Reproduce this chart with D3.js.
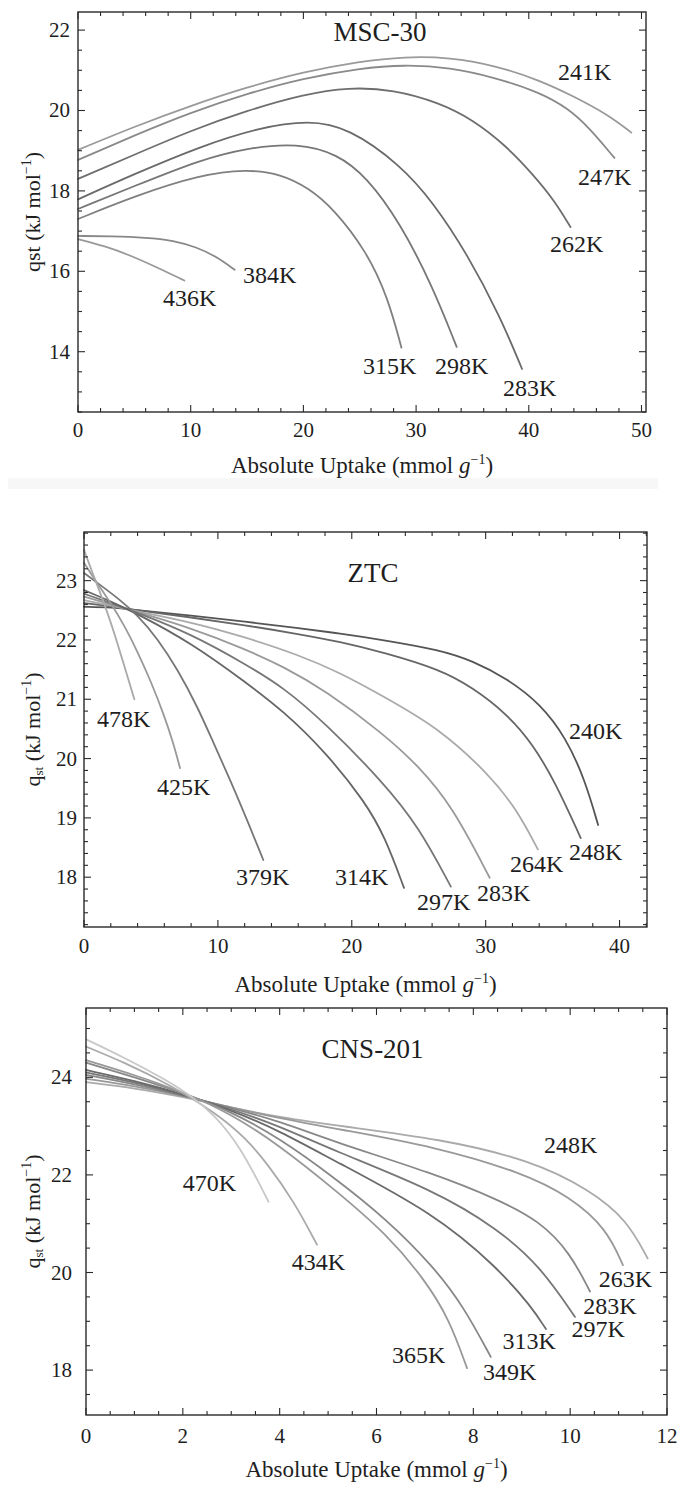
<!DOCTYPE html>
<html>
<head>
<meta charset="utf-8">
<script src="https://cdn.jsdelivr.net/npm/d3@7"></script>
<style>
  body { margin: 0; background: #fff; }
  svg { display: block; }
  text { font-family: "Liberation Serif", "Times New Roman", serif; fill: #1e1e1e; }
</style>
</head>
<body>
<svg id="chart" width="681" height="1487"></svg>
<script>
// ---- MSC-30 ----
const mscTemps = ["241K", "247K", "262K", "283K", "298K", "315K", "384K", "436K"];
const mscCurves = [
  [[0,19.02],[5,19.6],[10,20.12],[15,20.58],[20,20.96],[25,21.22],[29,21.34],[33,21.32],[37,21.12],[41,20.75],[44,20.35],[47,19.9],[49.1,19.45]],
  [[0,18.77],[5,19.38],[10,19.95],[15,20.42],[20,20.8],[25,21.05],[29,21.14],[33,21.07],[37,20.82],[41,20.45],[43.5,20.05],[45.4,19.56],[47.6,18.82]],
  [[0,18.3],[5,18.9],[10,19.5],[15,20.0],[20,20.4],[24,20.58],[28,20.52],[32,20.2],[35,19.78],[38,19.12],[40.4,18.4],[42.3,17.75],[43.7,17.1]],
  [[0,17.79],[5,18.42],[10.8,19.1],[16,19.57],[20.5,19.76],[24,19.57],[28.6,18.65],[31.5,17.72],[34.5,16.45],[37.5,14.85],[39.4,13.57]],
  [[0,17.55],[5,18.12],[10.8,18.77],[15,19.07],[19.5,19.19],[23,18.92],[25.6,18.35],[28.6,17.2],[31.5,15.6],[33.6,14.12]],
  [[0,17.3],[5,17.87],[10.8,18.4],[15,18.54],[18,18.42],[20.5,18.07],[22.7,17.55],[25.6,16.5],[27.5,15.35],[28.7,14.1]],
  [[0,16.88],[3,16.87],[6,16.84],[8.5,16.77],[10.5,16.6],[12.2,16.38],[13.9,16.04]],
  [[0,16.8],[2.5,16.62],[4.6,16.4],[7,16.1],[9.44,15.77]]
];
const mscColors = ["#9a9a9a", "#8a8a8a", "#6e6e6e", "#6a6a6a", "#777", "#808080", "#888", "#999"];
const mscXTicks = [0, 10, 20, 30, 40, 50];
const mscYTicks = [14, 16, 18, 20, 22];

// ---- ZTC ----
const ztcTemps = ["240K", "248K", "264K", "283K", "297K", "314K", "379K", "425K", "478K"];
const ztcCurves = [
  [[0,22.56],[2,22.55],[4,22.5],[8,22.41],[12,22.31],[16,22.2],[19.1,22.11],[22.35,22.0],[26.6,21.83],[29,21.65],[31.6,21.35],[34.1,20.92],[36,20.35],[37.4,19.65],[38.4,18.88]],
  [[0,22.62],[2,22.57],[4,22.5],[8,22.38],[12,22.25],[16,22.1],[19.1,21.97],[22.35,21.79],[26.6,21.5],[29,21.2],[31.6,20.75],[33.5,20.25],[35.2,19.6],[37.1,18.66]],
  [[0,22.67],[2,22.58],[4,22.48],[8,22.3],[12,22.05],[16,21.75],[19.1,21.45],[22.35,21.05],[26.6,20.5],[30.3,19.72],[32.3,19.15],[33.9,18.47]],
  [[0,22.73],[2,22.6],[4,22.47],[8,22.2],[12,21.85],[14.9,21.55],[18,21.15],[22.35,20.42],[25,19.87],[27.5,19.2],[30.3,17.99]],
  [[0,22.78],[2,22.62],[4,22.46],[8,22.1],[12,21.6],[14.9,21.2],[18,20.6],[22.35,19.6],[25,18.85],[27.4,17.84]],
  [[0,22.84],[2,22.65],[4,22.44],[8,21.95],[12,21.3],[14.9,20.8],[18,20.12],[21,19.27],[22.5,18.67],[23.9,17.82]],
  [[0,23.13],[1.25,22.92],[2.5,22.71],[4,22.42],[5.5,22.02],[7,21.5],[8.5,20.86],[9.6,20.3],[11,19.6],[12.3,18.9],[13.39,18.29]],
  [[0,23.3],[1,22.95],[2,22.62],[3,22.25],[4,21.8],[5,21.3],[6,20.72],[6.66,20.27],[7.17,19.84]],
  [[0,23.52],[0.6,23.15],[1.2,22.8],[1.8,22.43],[2.4,22.02],[3.0,21.57],[3.76,21.0]]
];
const ztcColors = ["#555", "#666", "#aaa", "#9a9a9a", "#777", "#666", "#777", "#999", "#aaa"];
const ztcXTicks = [0, 10, 20, 30, 40];
const ztcYTicks = [18, 19, 20, 21, 22, 23];

// ---- CNS-201 ----
const cnsTemps = ["248K", "263K", "283K", "297K", "313K", "349K", "365K", "434K", "470K"];
const cnsCurves = [
  [[0,23.9],[1,23.78],[2,23.6],[3,23.38],[4,23.18],[5.25,23.0],[7.31,22.74],[9.2,22.3],[10.41,21.69],[11.17,21.08],[11.6,20.29]],
  [[0,23.97],[1,23.82],[2,23.62],[3,23.38],[4,23.16],[5.25,22.93],[7.2,22.58],[9.0,22.05],[10.0,21.55],[10.75,20.9],[11.09,20.15]],
  [[0,24.05],[1,23.86],[2,23.63],[3,23.37],[4,23.1],[5.11,22.68],[7.18,22.03],[8.5,21.5],[9.38,21.05],[10.0,20.4],[10.41,19.61]],
  [[0,24.1],[1,23.9],[2,23.64],[3,23.35],[4,23.0],[5.11,22.5],[7.18,21.69],[8.5,20.9],[9.38,20.13],[10.1,19.09]],
  [[0,24.15],[1,23.93],[2,23.66],[3,23.33],[4,22.9],[5.11,22.3],[7.18,21.22],[8.5,20.1],[9.2,19.3],[9.5,18.84]],
  [[0,24.3],[1,24.0],[2,23.68],[3,23.3],[4,22.75],[5.11,21.96],[6.2,21.1],[7.18,20.12],[7.8,19.3],[8.36,18.27]],
  [[0,24.35],[1,24.05],[2,23.7],[3,23.25],[4,22.6],[5.11,21.72],[6.2,20.8],[7.0,19.85],[7.5,19.05],[7.87,18.04]],
  [[0,24.63],[0.8,24.3],[1.67,23.88],[2.7,23.26],[3.3,22.75],[3.73,22.25],[4.3,21.45],[4.77,20.57]],
  [[0,24.78],[0.8,24.4],[1.67,23.94],[2.2,23.6],[2.63,23.25],[3.18,22.6],[3.77,21.45]]
];
const cnsColors = ["#aaa", "#999", "#888", "#777", "#6a6a6a", "#888", "#999", "#aaa", "#c8c8c8"];
const cnsXTicks = [0, 2, 4, 6, 8, 10, 12];
const cnsYTicks = [18, 20, 22, 24];

// label anchor points in data units (text start, baseline)
const panels = [
  {
    title: "MSC-30", titleAt: [26.8, 21.73], subQ: false,
    box: { left: 78, right: 646, top: 12, bottom: 412 },
    xDomain: [0, 50.4], yDomain: [12.5, 22.45],
    xTicks: mscXTicks, xMinor: 2, yTicks: mscYTicks, yMinor: 0.5, yLabelGap: 8,
    temps: mscTemps, curves: mscCurves, colors: mscColors,
    labelAt: [[42.59,20.76],[44.37,18.15],[41.88,16.48],[37.71,12.9],[31.68,13.45],[25.29,13.45],[14.64,15.71],[7.54,15.14]],
    tickBase: 25, titleBase: 61
  },
  {
    title: "ZTC", titleAt: [21.58, 22.98], subQ: true,
    box: { left: 84, right: 647, top: 532, bottom: 927 },
    xDomain: [0, 42.05], yDomain: [17.16, 23.82],
    xTicks: ztcXTicks, xMinor: 2, yTicks: ztcYTicks, yMinor: 0.2, yLabelGap: 7,
    temps: ztcTemps, curves: ztcCurves, colors: ztcColors,
    labelAt: [[36.22,20.33],[36.22,18.29],[31.81,18.08],[29.35,17.59],[24.87,17.44],[18.75,17.86],[11.35,17.86],[5.45,19.39],[0.97,20.54]],
    tickBase: 26, titleBase: 65
  },
  {
    title: "CNS-201", titleAt: [5.92, 24.39], subQ: true,
    box: { left: 86, right: 667, top: 1008, bottom: 1415 },
    xDomain: [0, 12.0], yDomain: [17.08, 25.42],
    xTicks: cnsXTicks, xMinor: 0.5, yTicks: cnsYTicks, yMinor: 0.5, yLabelGap: 14,
    temps: cnsTemps, curves: cnsCurves, colors: cnsColors,
    labelAt: [[9.46,22.44],[10.59,19.71],[10.27,19.15],[10.03,18.68],[8.6,18.44],[8.2,17.8],[6.32,18.14],[4.25,20.05],[2.0,21.66]],
    tickBase: 28, titleBase: 62
  }
];

const svg = d3.select("#chart");

// faint grey strip under the first panel, as in the scan
svg.append("rect").attr("x", 8).attr("y", 478).attr("width", 650).attr("height", 11).attr("fill", "#f7f7f7");

panels.forEach(drawPanel);

function drawPanel(p) {
  const b = p.box;
  const x = d3.scaleLinear().domain(p.xDomain).range([b.left, b.right]);
  const y = d3.scaleLinear().domain(p.yDomain).range([b.bottom, b.top]);
  const g = svg.append("g");

  const line = d3.line()
    .x((d) => x(d[0]))
    .y((d) => y(d[1]))
    .curve(d3.curveBasis);

  g.append("g")
    .selectAll("path")
    .data(p.curves)
    .join("path")
    .attr("d", line)
    .attr("fill", "none")
    .attr("stroke", (d, i) => p.colors[i])
    .attr("stroke-width", 1.8)
    .attr("stroke-linecap", "round");

  // ticks on all four sides, pointing inward
  const eps = 1e-6;
  const xMinor = d3.range(p.xDomain[0], p.xDomain[1] + eps, p.xMinor);
  const yMinor = d3.range(Math.ceil(p.yDomain[0] / p.yMinor) * p.yMinor, p.yDomain[1] + eps, p.yMinor);
  const isMajor = (v, arr) => arr.some((t) => Math.abs(t - v) < 1e-6);
  const tk = g.append("g").attr("stroke", "#2a2a2a").attr("stroke-width", 1.1);
  xMinor.forEach((v) => {
    const len = isMajor(v, p.xTicks) ? 7 : 4;
    tk.append("line").attr("x1", x(v)).attr("x2", x(v)).attr("y1", b.bottom).attr("y2", b.bottom - len);
    tk.append("line").attr("x1", x(v)).attr("x2", x(v)).attr("y1", b.top).attr("y2", b.top + len);
  });
  yMinor.forEach((v) => {
    const len = isMajor(v, p.yTicks) ? 7 : 4;
    tk.append("line").attr("y1", y(v)).attr("y2", y(v)).attr("x1", b.left).attr("x2", b.left + len);
    tk.append("line").attr("y1", y(v)).attr("y2", y(v)).attr("x1", b.right).attr("x2", b.right - len);
  });

  g.append("rect")
    .attr("x", b.left).attr("y", b.top)
    .attr("width", b.right - b.left).attr("height", b.bottom - b.top)
    .attr("fill", "none").attr("stroke", "#2a2a2a").attr("stroke-width", 1.4);

  // tick labels
  g.append("g").selectAll("text").data(p.xTicks).join("text")
    .attr("x", (d) => x(d)).attr("y", b.bottom + p.tickBase)
    .attr("text-anchor", "middle").attr("font-size", 21)
    .text((d) => d);
  g.append("g").selectAll("text").data(p.yTicks).join("text")
    .attr("x", b.left - p.yLabelGap).attr("y", (d) => y(d) + 7)
    .attr("text-anchor", "end").attr("font-size", 21)
    .text((d) => d);

  // x title
  const xt = g.append("text")
    .attr("x", (b.left + b.right) / 2).attr("y", b.bottom + p.titleBase)
    .attr("text-anchor", "middle").attr("font-size", 23);
  xt.append("tspan").text("Absolute Uptake (mmol ");
  xt.append("tspan").attr("font-style", "italic").text("g");
  xt.append("tspan").attr("font-size", 14).attr("dy", -9).text("\u22121");
  xt.append("tspan").attr("dy", 9).text(")");

  // y title
  const yt = g.append("text")
    .attr("transform", `translate(40,${(b.top + b.bottom) / 2}) rotate(-90)`)
    .attr("text-anchor", "middle").attr("font-size", 22);
  if (p.subQ) {
    yt.append("tspan").text("q");
    yt.append("tspan").attr("font-size", 13).attr("dy", 3).text("st");
    yt.append("tspan").attr("dy", -3).text(" (kJ mol");
  } else {
    yt.append("tspan").text("qst (kJ mol");
  }
  yt.append("tspan").attr("font-size", 14).attr("dy", -9).text("\u22121");
  yt.append("tspan").attr("dy", 9).text(")");

  // panel title and curve labels
  g.append("text")
    .attr("x", x(p.titleAt[0])).attr("y", y(p.titleAt[1]))
    .attr("text-anchor", "middle").attr("font-size", 27)
    .text(p.title);

  g.append("g").selectAll("text").data(p.temps).join("text")
    .attr("x", (d, i) => x(p.labelAt[i][0]))
    .attr("y", (d, i) => y(p.labelAt[i][1]))
    .attr("font-size", 24)
    .text((d) => d);
}
</script>
</body>
</html>
